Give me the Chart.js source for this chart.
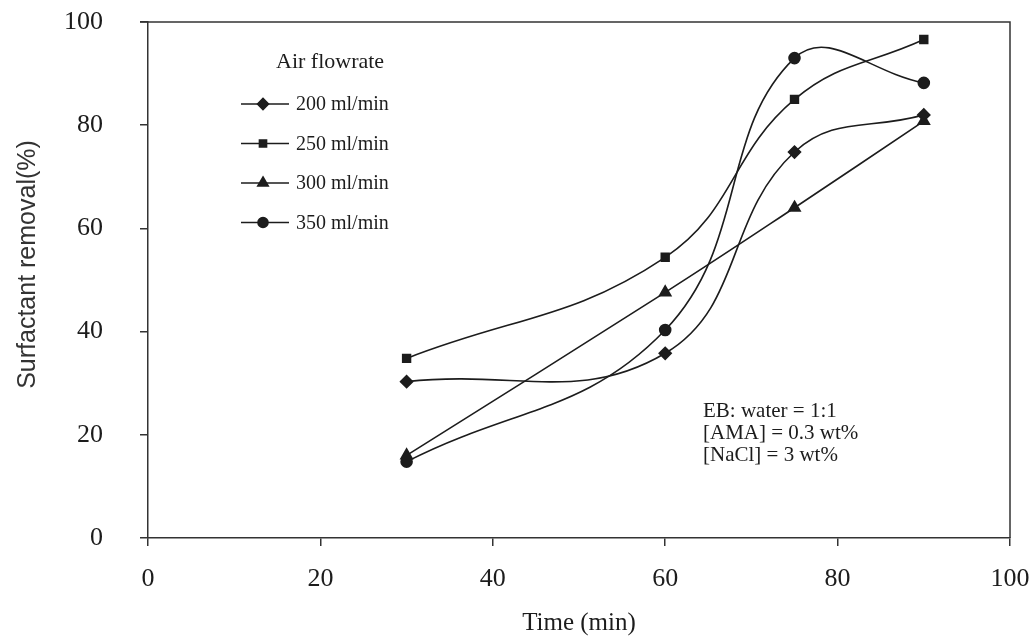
<!DOCTYPE html>
<html>
<head>
<meta charset="utf-8">
<script src="https://cdn.jsdelivr.net/npm/chart.js@4/dist/chart.umd.min.js"></script>
<style>
  html, body { margin: 0; padding: 0; background: #fff; }
  #wrap { width: 1035px; height: 642px; }
</style>
</head>
<body>
<div id="wrap"><canvas id="removalChart" width="1035" height="642"></canvas></div>
<script>
// 時間 (min)
const times = [30, 60, 75, 90];

// 空気流量ごとの界面活性剤除去率 (%)
const rate200 = [30.3, 35.8, 74.8, 82.0];
const rate250 = [34.8, 54.4, 85.0, 96.6];
const rate300 = [16.0, 47.6, 64.0, 80.8];
const rate350 = [14.8, 40.3, 93.0, 88.2];

const seriesLabels = ['200 ml/min', '250 ml/min', '300 ml/min', '350 ml/min'];
const legendTitle = 'Air flowrate';
const conditionLines = ['EB: water = 1:1', '[AMA] = 0.3 wt%', '[NaCl] = 3 wt%'];

const xTicks = [0, 20, 40, 60, 80, 100];
const yTicks = [0, 20, 40, 60, 80, 100];

const INK = '#1c1c1c';
const SERIF = '"Liberation Serif", "Times New Roman", serif';

function toPoints(values) {
    return times.map((t, i) => ({ x: t, y: values[i] }));
}

const styles = [
    { pointStyle: 'rectRot', radius: 6 },
    { pointStyle: 'rect', radius: 5.5 },
    { pointStyle: 'triangle', radius: 6.5 },
    { pointStyle: 'circle', radius: 5.5 }
];

const datasets = [rate200, rate250, rate300, rate350].map((vals, i) => ({
    label: seriesLabels[i],
    data: toPoints(vals),
    borderColor: INK,
    backgroundColor: INK,
    borderWidth: 1.6,
    pointStyle: styles[i].pointStyle,
    pointRadius: styles[i].radius,
    pointBackgroundColor: INK,
    pointBorderColor: INK,
    tension: 0.42
}));

// 枠線 (上・右) を描く
const framePlugin = {
    id: 'frame',
    afterDraw(chart) {
        const { ctx, chartArea: a } = chart;
        ctx.save();
        ctx.strokeStyle = '#333';
        ctx.lineWidth = 1.5;
        ctx.beginPath();
        ctx.moveTo(a.left - 8, a.top);
        ctx.lineTo(a.right, a.top);
        ctx.lineTo(a.right, a.bottom);
        ctx.stroke();
        ctx.restore();
    }
};

// 凡例 (グラフ内左上) と条件テキスト
const notesPlugin = {
    id: 'notes',
    afterDraw(chart) {
        const { ctx, chartArea: a } = chart;
        ctx.save();
        ctx.fillStyle = INK;
        ctx.strokeStyle = INK;

        // 凡例タイトル
        ctx.font = '22px ' + SERIF;
        ctx.textAlign = 'left';
        ctx.textBaseline = 'middle';
        ctx.fillText(legendTitle, a.left + 128, a.top + 40);

        // 凡例項目
        ctx.font = '20px ' + SERIF;
        chart.data.datasets.forEach((ds, i) => {
            const y = a.top + 82 + i * 39.5;
            const x0 = a.left + 93;
            ctx.lineWidth = 1.6;
            ctx.beginPath();
            ctx.moveTo(x0, y);
            ctx.lineTo(x0 + 48, y);
            ctx.stroke();
            Chart.helpers.drawPoint(ctx, {
                pointStyle: ds.pointStyle,
                radius: ds.pointRadius - 0.5,
                rotation: 0,
                borderWidth: 1
            }, x0 + 22, y);
            ctx.fillText(ds.label, x0 + 55, y + 1);
        });

        // 条件
        ctx.font = '21px ' + SERIF;
        conditionLines.forEach((t, i) => {
            ctx.fillText(t, a.left + 555, a.top + 389 + i * 22);
        });

        // 縦軸タイトル
        ctx.font = '25px "Liberation Sans", Arial, sans-serif';
        ctx.fillStyle = '#333';
        ctx.translate(28, a.top + (a.bottom - a.top) * 0.47);
        ctx.rotate(-Math.PI / 2);
        ctx.textAlign = 'center';
        ctx.fillText('Surfactant removal(%)', 0, 0);
        ctx.restore();
    }
};

new Chart(document.getElementById('removalChart'), {
    type: 'line',
    data: { datasets: datasets },
    options: {
        responsive: false,
        devicePixelRatio: 1,
        animation: false,
        layout: { padding: { top: 22, right: 25, left: 0, bottom: 0 } },
        plugins: {
            legend: { display: false },
            tooltip: { enabled: false }
        },
        scales: {
            x: {
                type: 'linear',
                min: 0,
                max: 100,
                afterBuildTicks: (scale) => { scale.ticks = xTicks.map(v => ({ value: v })); },
                afterFit: (scale) => {
                    scale.height = 104;
                    scale.paddingLeft = 0;
                    scale.paddingRight = 0;
                },
                ticks: {
                    color: INK,
                    font: { family: SERIF, size: 26 },
                    padding: 18,
                    maxRotation: 0
                },
                grid: {
                    drawOnChartArea: false,
                    drawTicks: true,
                    tickLength: 8,
                    color: '#333',
                    lineWidth: 1.5
                },
                border: { display: true, color: '#333', width: 1.5 },
                title: {
                    display: true,
                    text: 'Time (min)',
                    color: INK,
                    font: { family: SERIF, size: 25 },
                    padding: { top: 0, bottom: 4 }
                }
            },
            y: {
                type: 'linear',
                min: 0,
                max: 100,
                afterBuildTicks: (scale) => { scale.ticks = yTicks.map(v => ({ value: v })); },
                afterFit: (scale) => {
                    scale.width = 148;
                    scale.paddingTop = 0;
                    scale.paddingBottom = 0;
                },
                ticks: {
                    color: INK,
                    font: { family: SERIF, size: 26 },
                    padding: 37
                },
                grid: {
                    drawOnChartArea: false,
                    drawTicks: true,
                    tickLength: 8,
                    color: '#333',
                    lineWidth: 1.5
                },
                border: { display: true, color: '#333', width: 1.5 }
            }
        }
    },
    plugins: [framePlugin, notesPlugin]
});
</script>
</body>
</html>
